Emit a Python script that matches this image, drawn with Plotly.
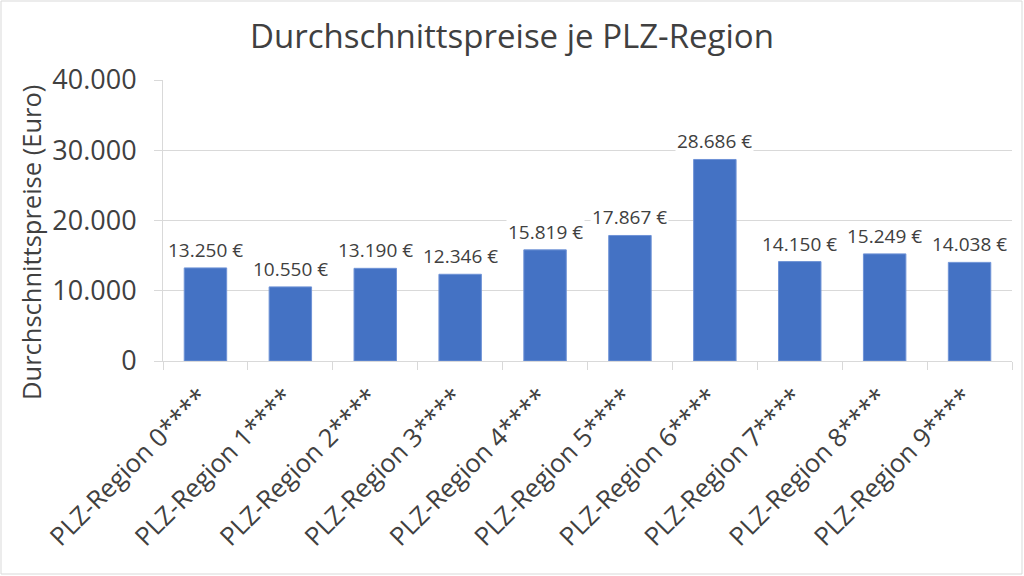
import plotly.graph_objects as go

# data
regions = [f"PLZ-Region {i}****" for i in range(10)]
prices = [13250, 10550, 13190, 12346, 15819, 17867, 28686, 14150, 15249, 14038]
y_ticks = [0, 10000, 20000, 30000, 40000]

BAR_COLOR = "#4472C4"
TEXT_COLOR = "#404040"
GRID_COLOR = "#d9d9d9"
FONT = "Open Sans"

# plot area in pixels (left, right, top, bottom)
PL, PR, PT, PB = 163, 1012, 80, 361
PW, PH = PR - PL, PB - PT


def fmt_euro(v):
    return f"{v:,}".replace(",", ".") + " €"


fig = go.Figure()
fig.add_trace(
    go.Bar(
        x=regions,
        y=prices,
        width=0.5,
        marker=dict(color=BAR_COLOR, line=dict(color="#6f93d6", width=1)),
        hoverinfo="x+y",
    )
)

# data labels with white background (they mask the gridlines like in Excel)
annotations = [
    dict(
        x=r,
        y=p,
        xref="x",
        yref="y",
        text=fmt_euro(p),
        showarrow=False,
        yanchor="bottom",
        yshift=3,
        bgcolor="white",
        borderpad=1,
        font=dict(family=FONT, size=19, color=TEXT_COLOR),
    )
    for r, p in zip(regions, prices)
]

# y axis title sits a bit below the middle of the plot in the reference
annotations.append(
    dict(
        text="Durchschnittspreise (Euro)",
        xref="paper",
        yref="paper",
        x=(31 - PL) / PW,
        y=(PB - 243) / PH,
        xanchor="center",
        yanchor="middle",
        textangle=-90,
        showarrow=False,
        font=dict(family=FONT, size=25.5, color=TEXT_COLOR),
    )
)

fig.update_layout(
    width=1024,
    height=576,
    margin=dict(l=PL, r=1024 - PR, t=PT, b=576 - PB),
    paper_bgcolor="white",
    plot_bgcolor="white",
    separators=",.",
    showlegend=False,
    title=dict(
        text="Durchschnittspreise je PLZ-Region",
        x=0.5,
        xanchor="center",
        y=1 - 36 / 576,
        yanchor="middle",
        font=dict(family=FONT, size=33, color=TEXT_COLOR),
    ),
    annotations=annotations,
    shapes=[
        dict(
            type="rect",
            xref="paper",
            yref="paper",
            x0=(1 - PL) / PW,
            x1=(1022 - PL) / PW,
            y0=-(574 - PB) / PH,
            y1=(PB - 1) / PH,
            line=dict(color=GRID_COLOR, width=1),
            layer="below",
        )
    ],
)

fig.update_xaxes(
    tickangle=-45,
    tickson="boundaries",
    ticks="outside",
    ticklen=8,
    tickcolor=GRID_COLOR,
    showline=True,
    linecolor=GRID_COLOR,
    linewidth=1,
    showgrid=False,
    ticklabelstandoff=10,
    ticklabelshift=-5,
    tickfont=dict(family=FONT, size=25.5, color=TEXT_COLOR),
)

fig.update_yaxes(
    range=[0, 40000],
    tickvals=y_ticks,
    tickformat=",d",
    ticks="outside",
    ticklen=8,
    tickcolor=GRID_COLOR,
    showline=True,
    linecolor=GRID_COLOR,
    showgrid=True,
    gridcolor=GRID_COLOR,
    gridwidth=1,
    zeroline=False,
    ticklabelstandoff=12,
    tickfont=dict(family=FONT, size=27, color=TEXT_COLOR),
)

fig.write_html(
    "out.html",
    config={"displayModeBar": False},
    post_script="document.body.style.margin='0';",
)
